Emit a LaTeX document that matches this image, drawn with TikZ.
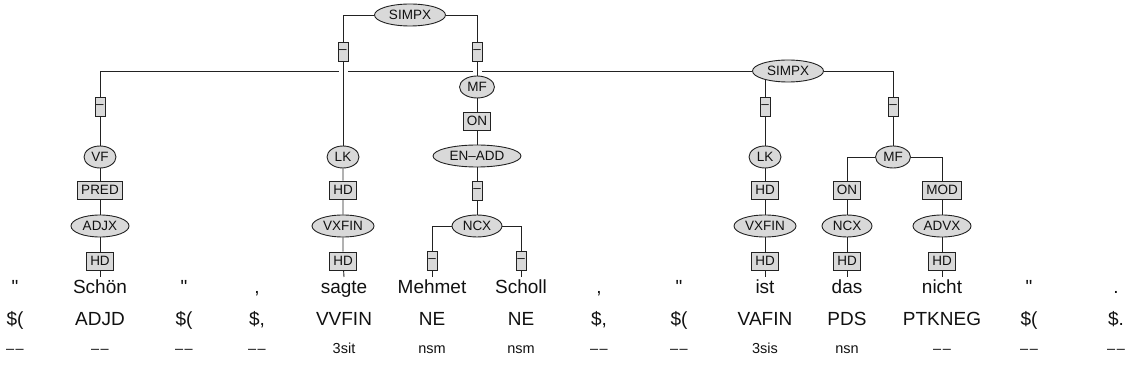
\documentclass[tikz,border=0pt]{standalone}
\usepackage{fontspec}
\newfontfamily\arialfont{Liberation Sans}
\usetikzlibrary{shapes.geometric,backgrounds}
\definecolor{linec}{HTML}{222222}
\definecolor{nodefill}{HTML}{D9D9D9}
\definecolor{textc}{HTML}{111111}
\newcommand{\lblfont}{\arialfont\fontsize{13.5}{15}\selectfont}
\newcommand{\wrdfont}{\arialfont\fontsize{19}{22}\selectfont}
\newcommand{\mphfont}{\arialfont\fontsize{14.5}{17}\selectfont}
\newcommand{\nodash}{–\kern1.5pt–}
\begin{document}
\begin{tikzpicture}[x=1pt,y=-1pt,
  ell/.style={ellipse,draw=linec,fill=nodefill,line width=0.9pt,inner sep=0pt,minimum height=22pt,font=\lblfont,text=textc},
  lab/.style={rectangle,draw=linec,fill=nodefill,line width=0.9pt,inner xsep=3.5pt,inner ysep=0pt,minimum height=18pt,font=\lblfont,text=textc},
  dsh/.style={rectangle,draw=linec,fill=nodefill,line width=0.9pt,inner sep=0pt,minimum width=10pt,minimum height=19pt,font=\lblfont,text=textc},
  edge/.style={draw=linec,line width=0.9pt},
  xedge/.style={edge,preaction={draw=white,line width=9pt}},
  wrd/.style={font=\wrdfont,anchor=base,text=textc,inner sep=0pt},
  mph/.style={font=\mphfont,anchor=base,text=textc,inner sep=0pt}]
\useasboundingbox (0,0) rectangle (1130,387);
% top SIMPX
\node[ell,minimum width=71pt] (s1) at (410,15) {SIMPX};
\node[dsh] (d1) at (343,52) {–};
\node[dsh] (d2) at (477,52) {–};
% right SIMPX
\node[ell,minimum width=71pt] (s2) at (788,71) {SIMPX};
\node[dsh] (dvf) at (100,107) {–};
\node[dsh] (dlk2) at (765,107) {–};
\node[dsh] (dmf2) at (893,107) {–};
% column Schoen
\node[ell,minimum width=32pt] (vf) at (100,157) {VF};
\node[lab] (pred) at (100,190) {PRED};
\node[ell,minimum width=58pt] (adjx) at (100,226) {ADJX};
\node[lab] (hd1) at (100,261) {HD};
% column sagte
\node[ell,minimum width=32pt] (lk1) at (343,157) {LK};
\node[lab] (hd2) at (343,190) {HD};
\node[ell,minimum width=62pt] (vxfin1) at (343,226) {VXFIN};
\node[lab] (hd3) at (343,261) {HD};
% MF (Mehmet Scholl)
\node[ell,minimum width=35pt] (mf1) at (477,87) {MF};
\node[lab] (on1) at (477,121) {ON};
\node[ell,minimum width=88pt] (enadd) at (477,156) {EN–ADD};
\node[dsh] (d3) at (477,191) {–};
\node[ell,minimum width=50pt] (ncx1) at (477,226) {NCX};
\node[dsh] (d4) at (432,261) {–};
\node[dsh] (d5) at (521,261) {–};
% column ist
\node[ell,minimum width=32pt] (lk2) at (765,157) {LK};
\node[lab] (hd4) at (765,190) {HD};
\node[ell,minimum width=62pt] (vxfin2) at (765,226) {VXFIN};
\node[lab] (hd5) at (765,261) {HD};
% MF right
\node[ell,minimum width=35pt] (mf2) at (893,157) {MF};
\node[lab] (on2) at (847,190) {ON};
\node[ell,minimum width=50pt] (ncx2) at (847,226) {NCX};
\node[lab] (hd6) at (847,261) {HD};
\node[lab] (mod) at (942,190) {MOD};
\node[ell,minimum width=58pt] (advx) at (942,226) {ADVX};
\node[lab] (hd7) at (942,261) {HD};
% words
\foreach \n/\x/\w/\p/\m in {1/15/"/\$(/\nodash, 2/100/Schön/ADJD/\nodash, 3/184/"/\$(/\nodash, 4/257/{,}/{\$,}/\nodash, 5/344/sagte/VVFIN/3sit, 6/432/Mehmet/NE/nsm, 7/521/Scholl/NE/nsm, 8/599/{,}/{\$,}/\nodash, 9/679/"/\$(/\nodash, 10/765/ist/VAFIN/3sis, 11/847/das/PDS/nsn, 12/942/nicht/PTKNEG/\nodash, 13/1029/"/\$(/\nodash, 14/1116/./\$./\nodash}{
  \node[wrd] (w\n) at (\x,294) {\w};
  \node[wrd] (p\n) at (\x,326) {\p};
  \node[mph] (m\n) at (\x,353) {\m};
  \coordinate (t\n) at (\x,277);
}
\begin{pgfonlayer}{background}
  \path[edge] (s2) -| (dvf);
  \path[edge] (s2) -| (dmf2);
  \path[edge] (dlk2) -- (dlk2 |- s2);
  \path[edge] (s1) -| (d1);
  \path[edge] (s1) -| (d2);
  \path[xedge] (d1) -- (lk1);
  \path[xedge] (d2) -- (mf1);
  \path[edge] (dvf) -- (vf) -- (pred) -- (adjx) -- (hd1) -- (t2);
  \path[edge] (lk1) -- (hd2) -- (vxfin1) -- (hd3) -- (t5);
  \path[edge] (mf1) -- (on1) -- (enadd) -- (d3) -- (ncx1);
  \path[edge] (ncx1) -| (d4);
  \path[edge] (ncx1) -| (d5);
  \path[edge] (d4) -- (t6);
  \path[edge] (d5) -- (t7);
  \path[edge] (dlk2) -- (lk2) -- (hd4) -- (vxfin2) -- (hd5) -- (t10);
  \path[edge] (dmf2) -- (mf2);
  \path[edge] (mf2) -| (on2);
  \path[edge] (mf2) -| (mod);
  \path[edge] (on2) -- (ncx2) -- (hd6) -- (t11);
  \path[edge] (mod) -- (advx) -- (hd7) -- (t12);
\end{pgfonlayer}
\end{tikzpicture}
\end{document}
